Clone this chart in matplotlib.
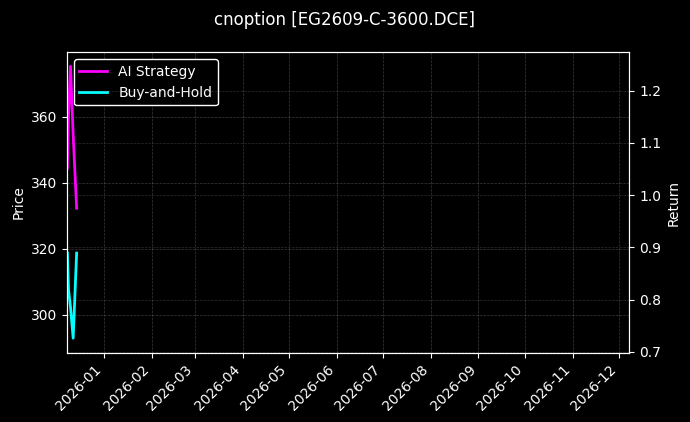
import matplotlib
matplotlib.use("Agg")
import matplotlib.pyplot as plt
import matplotlib.dates as mdates
import numpy as np
import pandas as pd

title = "cnoption [EG2609-C-3600.DCE]"
dates = pd.to_datetime(["2025-12-08 06:00", "2025-12-09 00:00", "2025-12-10 06:00",
                        "2025-12-12 00:00", "2025-12-14 06:00"])
ai_strategy = [1.052, 1.153, 1.247, 1.115, 0.975]
buy_and_hold = [0.889, 0.818, 0.786, 0.726, 0.889]
x_range = pd.to_datetime(["2025-12-08 00:00", "2026-12-07 20:00"])
price_range = [288.5, 379.5]
return_range = [0.698, 1.2736]

plt.style.use("dark_background")
fig = plt.figure(figsize=(6.9, 4.22), dpi=100)
ax1 = fig.add_axes([0.0971, 0.164, 0.912 - 0.0971, 0.876 - 0.164])
ax2 = ax1.twinx()

ax1.set_ylim(*price_range)
ax1.set_ylabel("Price", fontsize=10)
ax1.grid(True, linestyle="--", linewidth=0.5, color="gray", alpha=0.45)

l1, = ax2.plot(dates, ai_strategy, color="#ff00ff", linewidth=2, label="AI Strategy")
l2, = ax2.plot(dates, buy_and_hold, color="#00ffff", linewidth=2, label="Buy-and-Hold")
ax2.set_ylim(*return_range)
ax2.set_ylabel("Return", fontsize=10)
ax2.grid(True, axis="y", linestyle="--", linewidth=0.5, color="gray", alpha=0.35)

ax1.set_xlim(x_range[0], x_range[1])
ax1.xaxis.set_major_locator(mdates.MonthLocator())
ax1.xaxis.set_major_formatter(mdates.DateFormatter("%Y-%m"))
for lab in ax1.get_xticklabels():
    lab.set_rotation(45)
    lab.set_ha("right")

leg = ax1.legend(handles=[l1, l2], loc="upper left", facecolor="black",
                 edgecolor="white", fontsize=10, framealpha=1.0)

fig.suptitle(title, fontsize=12, y=0.975)
fig.savefig("out.png", dpi=100, facecolor="black")
